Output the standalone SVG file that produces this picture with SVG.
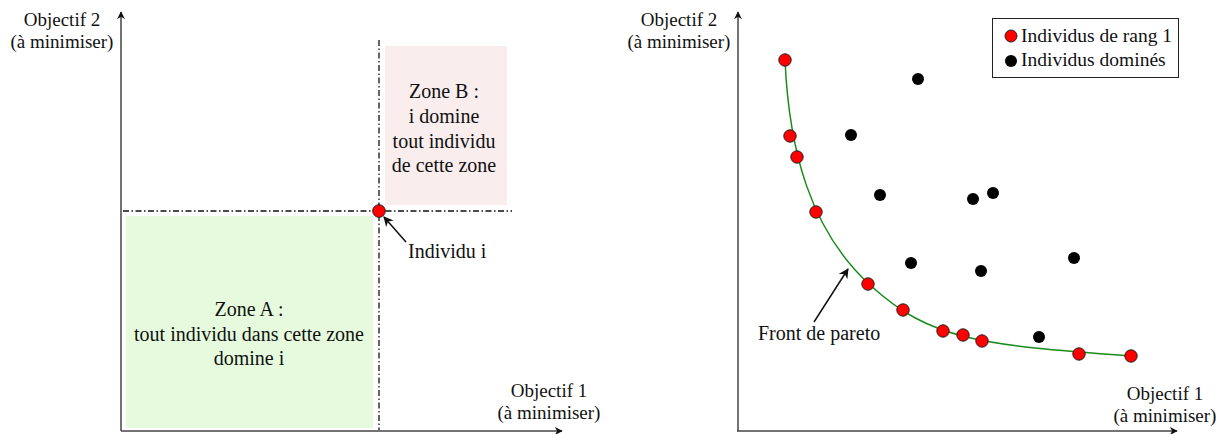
<svg xmlns="http://www.w3.org/2000/svg" width="1227" height="434" viewBox="0 0 1227 434">
<style>
text{font-family:"Liberation Serif","Times New Roman",serif;font-size:20px;fill:#111}
.c{text-anchor:middle}
.ax{font-size:19px}
.axis{stroke:#444;stroke-width:1.5;fill:none}
.dd{stroke:#111;stroke-width:1.3;stroke-dasharray:6 2.5 1.5 2.5;fill:none}
.red{fill:#ff0000;stroke:#222;stroke-width:1}
.blk{fill:#000}
.ptr{stroke:#111;stroke-width:1.5;fill:none}
</style>
<defs>
<marker id="ah" viewBox="0 0 10 10" refX="9" refY="5" markerWidth="8" markerHeight="8" markerUnits="userSpaceOnUse" orient="auto">
<path d="M0,0 L10,5 L0,10 L3,5 Z" fill="#111"/>
</marker>
<marker id="ap" viewBox="0 0 10 10" refX="9" refY="5" markerWidth="10" markerHeight="10" markerUnits="userSpaceOnUse" orient="auto">
<path d="M0,0 L10,5 L0,10 L3,5 Z" fill="#111"/>
</marker>
</defs>
<rect width="1227" height="434" fill="#fff"/>

<!-- Left panel -->
<g id="zoneA">
<rect x="126" y="216" width="247" height="212" fill="#e6fbdd"/>
<text class="c" x="249" y="316">Zone A :</text>
<text class="c" x="249" y="341">tout individu dans cette zone</text>
<text class="c" x="249" y="365">domine i</text>
</g>
<g id="zoneB">
<rect x="385" y="46" width="122" height="159" fill="#f9eded"/>
<text class="c" x="444" y="98">Zone B :</text>
<text class="c" x="444" y="123">i domine</text>
<text class="c" x="444" y="148">tout individu</text>
<text class="c" x="444" y="172">de cette zone</text>
</g>
<g id="axes-left">
<line class="axis" x1="121" y1="431" x2="121" y2="12" marker-end="url(#ah)"/>
<line class="axis" x1="121" y1="431" x2="562" y2="431" marker-end="url(#ah)"/>
<text class="c ax" x="62" y="26">Objectif 2</text>
<text class="c ax" x="62" y="48">(à minimiser)</text>
<text class="c ax" x="549" y="397">Objectif 1</text>
<text class="c ax" x="549" y="419">(à minimiser)</text>
</g>
<g id="connectors-left">
<line class="dd" x1="379" y1="40" x2="379" y2="430"/>
<line class="dd" x1="123" y1="211" x2="512" y2="211"/>
<line class="ptr" x1="406" y1="242" x2="384" y2="217" marker-end="url(#ap)"/>
</g>
<g id="individu-i">
<circle class="red" cx="379" cy="211" r="6.3"/>
<text x="408" y="258">Individu i</text>
</g>

<!-- Right panel -->
<g id="axes-right">
<line class="axis" x1="738" y1="431" x2="738" y2="12" marker-end="url(#ah)"/>
<line class="axis" x1="737" y1="431" x2="1177" y2="431" marker-end="url(#ah)"/>
<text class="c ax" x="679" y="26">Objectif 2</text>
<text class="c ax" x="679" y="48">(à minimiser)</text>
<text class="c ax" x="1165" y="400">Objectif 1</text>
<text class="c ax" x="1165" y="422">(à minimiser)</text>
</g>
<g id="connectors-right">
<path d="M785,60 C789,150 810,230 870,285 S980,345 1131,356" stroke="#1a8a1a" stroke-width="1.5" fill="none"/>
<line class="ptr" x1="814" y1="322" x2="848" y2="269" marker-end="url(#ap)"/>
</g>
<g id="front-label">
<text x="758" y="340">Front de pareto</text>
</g>
<g id="rang1">
<circle class="red" cx="785" cy="60" r="6.2"/>
<circle class="red" cx="790" cy="136" r="6.2"/>
<circle class="red" cx="797" cy="157" r="6.2"/>
<circle class="red" cx="816" cy="212" r="6.2"/>
<circle class="red" cx="868" cy="284" r="6.2"/>
<circle class="red" cx="903" cy="310" r="6.2"/>
<circle class="red" cx="943" cy="331" r="6.2"/>
<circle class="red" cx="963" cy="335" r="6.2"/>
<circle class="red" cx="982" cy="341" r="6.2"/>
<circle class="red" cx="1079" cy="354" r="6.2"/>
<circle class="red" cx="1131" cy="356" r="6.2"/>
</g>
<g id="domines">
<circle class="blk" cx="918" cy="79" r="6"/>
<circle class="blk" cx="851" cy="135" r="6"/>
<circle class="blk" cx="880" cy="195" r="6"/>
<circle class="blk" cx="973" cy="199" r="6"/>
<circle class="blk" cx="993" cy="193" r="6"/>
<circle class="blk" cx="911" cy="263" r="6"/>
<circle class="blk" cx="981" cy="271" r="6"/>
<circle class="blk" cx="1074" cy="258" r="6"/>
<circle class="blk" cx="1039" cy="337" r="6"/>
</g>
<g id="legend">
<rect x="992.5" y="18.5" width="186" height="59" fill="#fff" stroke="#222" stroke-width="1"/>
<circle class="red" cx="1011" cy="36" r="6"/>
<circle class="blk" cx="1011" cy="61" r="6"/>
<text x="1021" y="42" style="font-size:19.5px">Individus de rang 1</text>
<text x="1021" y="66" style="font-size:19.5px">Individus dominés</text>
</g>
</svg>
